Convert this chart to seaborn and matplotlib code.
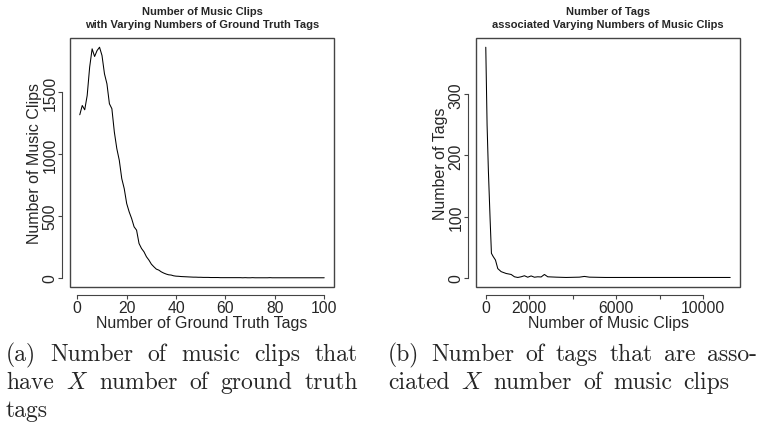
import matplotlib
matplotlib.use("Agg")
import matplotlib.pyplot as plt
import pandas as pd
import seaborn as sns

# left panel: number of clips having X ground truth tags
n_tags = list(range(1, 101))
n_clips = [1318, 1393, 1358, 1474, 1703, 1851, 1789, 1837, 1864, 1797,
           1649, 1568, 1407, 1367, 1178, 1044, 950, 802, 721, 600,
           533, 479, 412, 385, 277, 237, 210, 170, 143, 110,
           89, 70, 62, 48, 38, 30, 24, 22, 16, 13,
           12, 10, 9, 8, 7, 6, 5, 5, 4, 4,
           3, 3, 3, 2, 2, 2, 2, 1, 1, 1,
           1, 1, 1, 1, 1, 1, 0, 1, 0, 0,
           1, 0, 0, 0, 0, 0, 0, 1, 0, 0,
           0, 0, 0, 0, 0, 0, 0, 0, 0, 0,
           0, 0, 0, 0, 0, 0, 0, 0, 0, 0]

# right panel: number of tags associated with X clips
clip_counts = [0, 60, 120, 200, 260, 336, 446, 552, 708, 938,
               1168, 1320, 1472, 1628, 1779, 1931, 2087, 2239, 2391, 2547,
               2699, 2851, 3236, 3697, 4308, 4538, 4768, 5500, 7000, 9000,
               11250]
tag_counts = [377, 250, 175, 95, 40, 35, 29, 15, 10, 7,
              5.4, 1.6, 0.5, 1.6, 3.3, 0.9, 3, 0.9, 1.6, 1.3,
              5.4, 1.6, 1, 0.5, 1, 2.2, 1, 0.5, 0.5, 0.5,
              0.5]

sns.set_style("white")
plt.rcParams["font.family"] = ["Liberation Sans", "DejaVu Sans"]
plt.rcParams["mathtext.fontset"] = "cm"

fig = plt.figure(figsize=(7.68, 4.27), dpi=100)
ax1 = fig.add_axes([70 / 768, 1 - 288 / 427, 264 / 768, 249 / 427])
ax2 = fig.add_axes([476 / 768, 1 - 288 / 427, 264 / 768, 249 / 427])

left = pd.DataFrame({"tags": n_tags, "clips": n_clips})
right = pd.DataFrame({"clips": clip_counts, "tags": tag_counts})
sns.lineplot(data=left, x="tags", y="clips", ax=ax1, color="black", lw=0.75)
sns.lineplot(data=right, x="clips", y="tags", ax=ax2, color="black", lw=0.75)


def r_style(ax, xticks, xlabels, yticks, title, xlabel, ylabel, xlim, ylim):
    ax.set_xlim(*xlim)
    ax.set_ylim(*ylim)
    ax.patch.set_edgecolor("#444444")
    ax.patch.set_linewidth(1.0)
    for s in ["top", "right"]:
        ax.spines[s].set_visible(False)
    for s in ["bottom", "left"]:
        ax.spines[s].set_position(("outward", 6))
        ax.spines[s].set_color("#444444")
        ax.spines[s].set_linewidth(0.8)
    ax.spines["bottom"].set_bounds(xticks[0], xticks[-1])
    ax.spines["left"].set_bounds(yticks[0], yticks[-1])
    ax.set_xticks(xticks)
    ax.set_xticklabels(xlabels)
    ax.set_yticks(yticks)
    ax.set_yticklabels([str(v) for v in yticks], rotation=90, va="center")
    ax.tick_params(direction="out", length=3, width=0.8, color="#444444",
                   labelsize=11.3, pad=0.5, bottom=True, left=True)
    ax.tick_params(axis="y", pad=0)
    ax.set_xlabel(xlabel, fontsize=11.5, labelpad=0)
    ax.set_ylabel(ylabel, fontsize=11.5, labelpad=0)
    ax.set_title(title, fontsize=8, fontweight="bold", pad=8, linespacing=1.35)


r_style(ax1, [0, 20, 40, 60, 80, 100], ["0", "20", "40", "60", "80", "100"],
        [0, 500, 1000, 1500],
        "Number of Music Clips\nwith Varying Numbers of Ground Truth Tags",
        "Number of Ground Truth Tags", "Number of Music Clips",
        (-2.96, 103.96), (-74.6, 1938.6))
r_style(ax2, [0, 2000, 4000, 6000, 8000, 10000],
        ["0", "2000", "", "6000", "", "10000"],
        [0, 100, 200, 300],
        "Number of Tags\nassociated Varying Numbers of Music Clips",
        "Number of Music Clips", "Number of Tags",
        (-450, 11700), (-15.1, 392.1))

# captions, justified like the LaTeX source
cap_kw = dict(fontsize=17, family="cmr10", va="baseline")


def justified(words, x0, x1, y, stretch=True, gap=8):
    texts = [fig.text(0, 1 - y / 427, w, **cap_kw) for w in words]
    r = fig.canvas.get_renderer()
    widths = [t.get_window_extent(r).width for t in texts]
    if stretch and len(words) > 1:
        gap = (x1 - x0 - sum(widths)) / (len(words) - 1)
    x = x0
    for t, w in zip(texts, widths):
        t.set_x(x / 768)
        x += w + gap


justified(["(a)", "Number", "of", "music", "clips", "that"], 6, 358, 361)
justified(["have", "$X$", "number", "of", "ground", "truth"], 6, 358, 389)
justified(["tags"], 6, 358, 417, stretch=False)
justified(["(b)", "Number", "of", "tags", "that", "are", "asso-"], 388, 757, 361)
justified(["ciated", "$X$", "number", "of", "music", "clips"], 388, 757, 389,
          stretch=False, gap=11)

fig.savefig("out.png", dpi=100)
